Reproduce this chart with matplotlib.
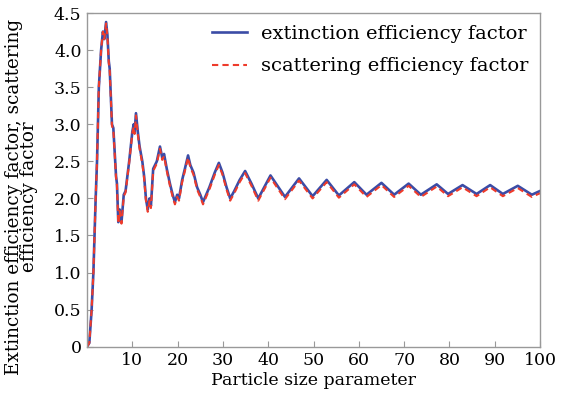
import matplotlib
matplotlib.use("Agg")
import matplotlib.pyplot as plt

size_param = [0, 0.5, 1.0, 1.4, 1.9, 2.2, 2.6, 3.1, 3.5, 3.8,
              4.2, 4.5, 4.8, 5.0, 5.5, 5.8, 6.4, 6.6, 6.9, 7.2,
              7.6, 8.1, 8.5, 9.3, 10.0, 10.3, 10.5, 10.8, 11.2, 11.6,
              12.2, 12.6, 13.0, 13.4, 13.8, 14.1, 14.6, 15.0, 15.4, 16.1,
              16.6, 17.0, 17.6, 18.3, 18.9, 19.4, 19.9, 20.3, 21.0, 21.6,
              22.3, 22.8, 23.5, 24.3, 25.0, 25.6, 26.3, 27.0, 28.2, 29.1,
              29.9, 30.8, 31.6, 32.5, 33.7, 34.9, 36.3, 37.8, 40.5, 43.7,
              46.8, 49.8, 52.9, 55.6, 59.0, 61.7, 65.0, 67.8, 71.0, 73.7,
              77.2, 79.7, 82.9, 86.0, 89.0, 91.8, 95.1, 98.2, 100]

extinction = [0, 0.05, 0.49, 1.0, 2.0, 2.5, 3.5, 4.0, 4.25, 4.15,
              4.38, 4.2, 3.85, 3.75, 3.0, 2.95, 2.3, 2.2, 1.68, 1.85,
              1.68, 2.05, 2.1, 2.5, 2.9, 3.0, 2.9, 3.15, 2.9, 2.7,
              2.5, 2.3, 2.0, 1.85, 2.0, 1.9, 2.4, 2.45, 2.5, 2.7,
              2.55, 2.6, 2.4, 2.2, 2.05, 1.95, 2.05, 2.0, 2.25, 2.4,
              2.58, 2.45, 2.35, 2.15, 2.05, 1.95, 2.05, 2.15, 2.35, 2.48,
              2.35, 2.15, 2.0, 2.1, 2.25, 2.37, 2.2, 2.0, 2.31, 2.02,
              2.27, 2.03, 2.25, 2.04, 2.22, 2.05, 2.21, 2.05, 2.2, 2.05,
              2.19, 2.06, 2.18, 2.06, 2.18, 2.06, 2.17, 2.05, 2.1]

scattering = [0, 0.05, 0.49, 1.0, 2.0, 2.5, 3.5, 4.0, 4.25, 4.15,
              4.36, 4.18, 3.83, 3.73, 2.98, 2.93, 2.28, 2.18, 1.66, 1.83,
              1.66, 2.03, 2.08, 2.48, 2.88, 2.97, 2.87, 3.12, 2.87, 2.67,
              2.47, 2.27, 1.97, 1.82, 1.97, 1.87, 2.37, 2.42, 2.47, 2.67,
              2.52, 2.57, 2.37, 2.17, 2.02, 1.92, 2.02, 1.97, 2.22, 2.37,
              2.55, 2.42, 2.32, 2.12, 2.02, 1.92, 2.02, 2.12, 2.32, 2.45,
              2.32, 2.12, 1.97, 2.07, 2.22, 2.34, 2.17, 1.97, 2.28, 1.99,
              2.24, 2.0, 2.22, 2.01, 2.19, 2.02, 2.18, 2.02, 2.17, 2.02,
              2.16, 2.03, 2.15, 2.03, 2.15, 2.03, 2.14, 2.02, 2.07]

x_ticks = [10, 20, 30, 40, 50, 60, 70, 80, 90, 100]
y_ticks = [0, 0.5, 1.0, 1.5, 2.0, 2.5, 3.0, 3.5, 4.0, 4.5]
y_tick_labels = ["0", "0.5", "1.0", "1.5", "2.0", "2.5", "3.0", "3.5", "4.0", "4.5"]

plt.rcParams['font.family'] = ['DejaVu Serif']

fig = plt.figure(figsize=(5.69, 3.98), dpi=100)
ax = fig.add_axes([0.153, 0.129, 0.796, 0.838])

ax.plot(size_param, extinction, color='#3b4ca6', lw=1.9, label='extinction efficiency factor')
ax.plot(size_param, scattering, color='#ee3b2b', lw=1.5, dashes=(3, 2), label='scattering efficiency factor')

ax.set_xlim(0, 100)
ax.set_ylim(0, 4.5)
ax.set_xticks(x_ticks)
ax.set_yticks(y_ticks)
ax.set_yticklabels(y_tick_labels)
ax.tick_params(direction='in', length=4, color='#999999', labelsize=12.5, pad=4)

for s in ax.spines.values():
    s.set_color('#999999')
    s.set_linewidth(1.0)

ax.set_xlabel('Particle size parameter', fontsize=12.5, labelpad=2)
ax.set_ylabel('Extinction efficiency factor, scattering\nefficiency factor', fontsize=13.2,
              linespacing=0.8)
ax.yaxis.set_label_coords(-0.108, 0.45)

ax.legend(loc='upper right', frameon=False, fontsize=14, handlelength=1.8,
          handletextpad=0.7, labelspacing=0.75, borderaxespad=0.2,
          bbox_to_anchor=(1.0, 1.0))

fig.savefig('out.png', dpi=100)
